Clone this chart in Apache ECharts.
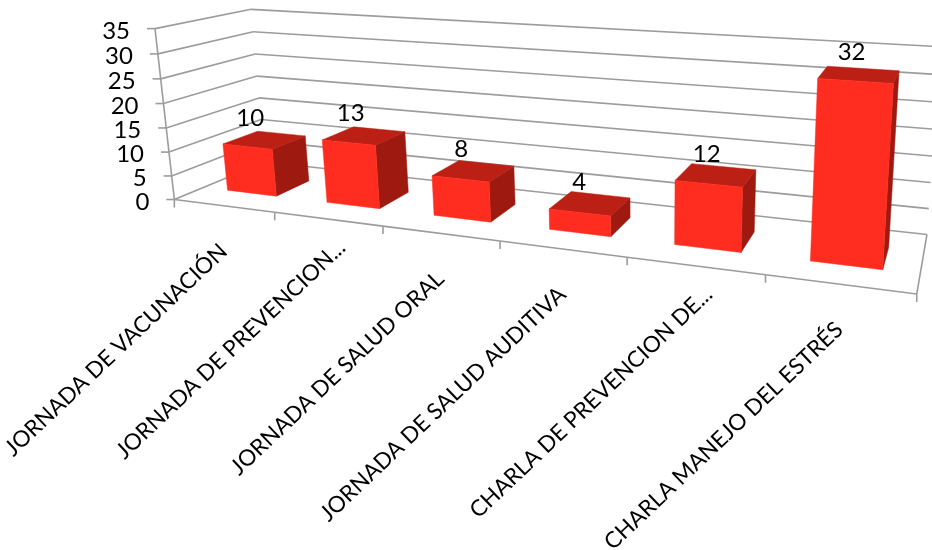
<!DOCTYPE html>
<html>
<head>
<meta charset="utf-8">
<style>html,body{margin:0;padding:0;background:#fff}#chart{width:932px;height:550px}</style>
<script src="https://cdn.jsdelivr.net/npm/echarts@6/dist/echarts.min.js"></script>
</head>
<body>
<div id="chart"></div>
<script>
// Chart content
var categories = [
  'JORNADA DE VACUNACIÓN',
  'JORNADA DE PREVENCION...',
  'JORNADA DE SALUD ORAL',
  'JORNADA DE SALUD AUDITIVA',
  'CHARLA DE PREVENCION DE...',
  'CHARLA MANEJO DEL ESTRÉS'
];
var values = [10, 13, 8, 4, 12, 32];
var yTicks = [0, 5, 10, 15, 20, 25, 30, 35];

// Camera: maps (across, depth, height), each 0..1 inside the plot box, to screen pixels.
var CAMERA = [
  542.3008, 123.6064, -25.44551, 174.3434,
  30.32184, -17.34965, -172.0506, 199.5328,
  -0.2182702, 0.1247177, -0.03933855
];
function project(u, d, v) {
  var c = CAMERA;
  var w = c[8] * u + c[9] * d + c[10] * v + 1;
  return [
    (c[0] * u + c[1] * d + c[2] * v + c[3]) / w,
    (c[4] * u + c[5] * d + c[6] * v + c[7]) / w
  ];
}

// Bar block proportions inside a category band and inside the box depth.
var BAR_SHARE = 0.5;
var BAR_NEAR = 0.30;
var BAR_FAR = 0.685;

var FONT = 'Lato, "Open Sans", sans-serif';
var LINE = { stroke: '#9C9C9C', lineWidth: 1.6, fill: null };
var FRONT = '#FF2D20', TOP = '#BC1F14', SIDE = '#9E1A10';
var LABEL_ANGLE = 43.5 * Math.PI / 180;

// Turn a pixel from the flat cartesian grid into box coordinates.
function toBox(params, px) {
  var cs = params.coordSys;
  return [(px[0] - cs.x) / cs.width, (cs.y + cs.height - px[1]) / cs.height];
}
function segment(a, b) {
  return { type: 'line', silent: true, shape: { x1: a[0], y1: a[1], x2: b[0], y2: b[1] }, style: LINE };
}
function face(points, color) {
  return { type: 'polygon', silent: true, shape: { points: points }, style: { fill: color, stroke: color, lineWidth: 0.5 } };
}
function label(text, x, y, size, align, rotation) {
  return {
    type: 'text', silent: true, x: x, y: y, rotation: rotation || 0,
    style: { text: text, fill: '#000', font: size + 'px ' + FONT, align: align, verticalAlign: 'middle' }
  };
}

// Wall gridlines, the slanted value axis and its tick labels.
function renderLevel(params, api) {
  var v = toBox(params, api.coord([0, api.value(1)]))[1];
  var front = project(0, 0, v), corner = project(0, 1, v), end = project(1, 1, v);
  var kids = [
    segment(front, corner),
    segment(corner, end),
    segment([front[0] - 8, front[1]], front),
    label(String(api.value(1)), front[0] - 25, front[1] + 2.5, 24, 'right')
  ];
  if (v >= 1) kids.push(segment(project(0, 0, 0), front));
  return { type: 'group', children: kids };
}

// Floor outline, category ticks and rotated category labels.
function renderCategory(params, api) {
  var i = api.value(0);
  var px = api.coord([i, 0]);
  var band = api.size([1, 0])[0];
  var u0 = toBox(params, [px[0] - band / 2, px[1]])[0];
  var u1 = toBox(params, [px[0] + band / 2, px[1]])[0];
  var a = project(u0, 0, 0), b = project(u1, 0, 0);
  var mid = project((u0 + u1) / 2, 0, 0);
  var name = categories[i];
  var cut = name.slice(-3) === '...';
  var kids = [
    segment(a, b),
    segment(b, [b[0], b[1] + 8]),
    label(name, mid[0] + (cut ? 14 : 0), mid[1] + (cut ? 25 : 42), 22.5, 'right', LABEL_ANGLE)
  ];
  if (i === 0) kids.push(segment(a, [a[0], a[1] + 8]));
  if (i === categories.length - 1) kids.push(segment(b, project(1, 1, 0)));
  return { type: 'group', children: kids };
}

// One red block: side, top and front faces plus its value label.
function renderBar(params, api) {
  var i = api.value(0), val = api.value(1);
  var top = api.coord([i, val]);
  var band = api.size([1, 0])[0] * BAR_SHARE;
  var u0 = toBox(params, [top[0] - band / 2, top[1]])[0];
  var u1 = toBox(params, [top[0] + band / 2, top[1]])[0];
  var v = toBox(params, top)[1];
  var n = BAR_NEAR, f = BAR_FAR;
  var cap = project((u0 + u1) / 2, (n + f) / 2 - 0.1, v);
  return {
    type: 'group',
    children: [
      face([project(u1, n, 0), project(u1, f, 0), project(u1, f, v), project(u1, n, v)], SIDE),
      face([project(u0, n, v), project(u1, n, v), project(u1, f, v), project(u0, f, v)], TOP),
      face([project(u0, n, 0), project(u1, n, 0), project(u1, n, v), project(u0, n, v)], FRONT),
      label(String(val), cap[0] - 5.5, cap[1] - 25.5, 24, 'center')
    ]
  };
}

var chart = echarts.init(document.getElementById('chart'));
chart.setOption({
  animation: false,
  backgroundColor: '#fff',
  grid: { left: 174, right: 15, top: 29, bottom: 351 },
  xAxis: { type: 'category', data: categories, show: false },
  yAxis: { type: 'value', min: 0, max: 35, interval: 5, show: false },
  series: [
    { type: 'custom', silent: true, renderItem: renderLevel, clip: false, data: yTicks.map(function (t) { return [0, t]; }) },
    { type: 'custom', silent: true, renderItem: renderCategory, clip: false, data: categories.map(function (c, i) { return [i, 0]; }) },
    { type: 'custom', silent: true, renderItem: renderBar, clip: false, data: values.map(function (n, i) { return [i, n]; }) }
  ]
});
</script>
</body>
</html>
